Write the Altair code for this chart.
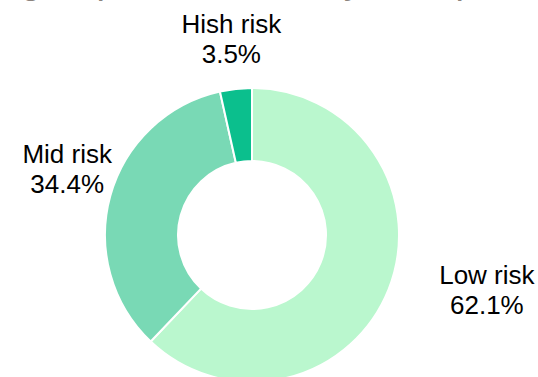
import altair as alt
import pandas as pd

# ---- data ----
categories = ["Low risk", "Mid risk", "Hish risk"]
shares = [62.1, 34.4, 3.5]
colors = ["#BAF7CE", "#79D9B5", "#0BBF8D"]
title_text = "Risk group distribution by total patients"

df = pd.DataFrame({"cat": categories, "share": shares, "idx": list(range(len(categories)))})

theta_scale = alt.Scale(domain=[0, 100])

base = alt.Chart(df).transform_window(
    cum="sum(share)", sort=[{"field": "idx"}], frame=[None, 0]
).transform_calculate(
    start="datum.cum - datum.share",
    mid="datum.cum - datum.share / 2",
    label="datum.cat + '\\n' + format(datum.share, '.1f') + '%'",
)

arc = base.mark_arc(innerRadius=74, outerRadius=147, stroke="white", strokeWidth=2).encode(
    theta=alt.Theta("start:Q", scale=theta_scale),
    theta2="cum:Q",
    color=alt.Color("cat:N", scale=alt.Scale(domain=categories, range=colors), legend=None),
)

nudges = {"Low risk": (77, -14), "Mid risk": (-21, -27), "Hish risk": (-2, -33)}
label_layers = []
for cat in categories:
    dx, dy = nudges[cat]
    label_layers.append(
        base.transform_filter(alt.datum.cat == cat)
        .mark_text(
            radius=170, dx=dx, dy=dy, fontSize=26, font="Liberation Sans",
            lineBreak="\n", lineHeight=30, baseline="alphabetic", align="center",
            color="#000000",
        )
        .encode(theta=alt.Theta("mid:Q", scale=theta_scale), text="label:N")
    )

title = alt.Chart(pd.DataFrame({"t": [title_text]})).mark_text(
    align="left", baseline="alphabetic", fontSize=38, font="Liberation Sans", color="#8C847F"
).encode(text="t:N", x=alt.value(-64), y=alt.value(-100))

chart = alt.layer(arc, *label_layers, title).properties(
    width=504,
    height=284,
    padding={"left": 0, "top": 93, "right": 34, "bottom": 0},
    autosize=alt.AutoSizeParams(type="none"),
).configure_view(stroke=None)

chart.save("out.html", embed_options={"renderer": "svg", "actions": False})
